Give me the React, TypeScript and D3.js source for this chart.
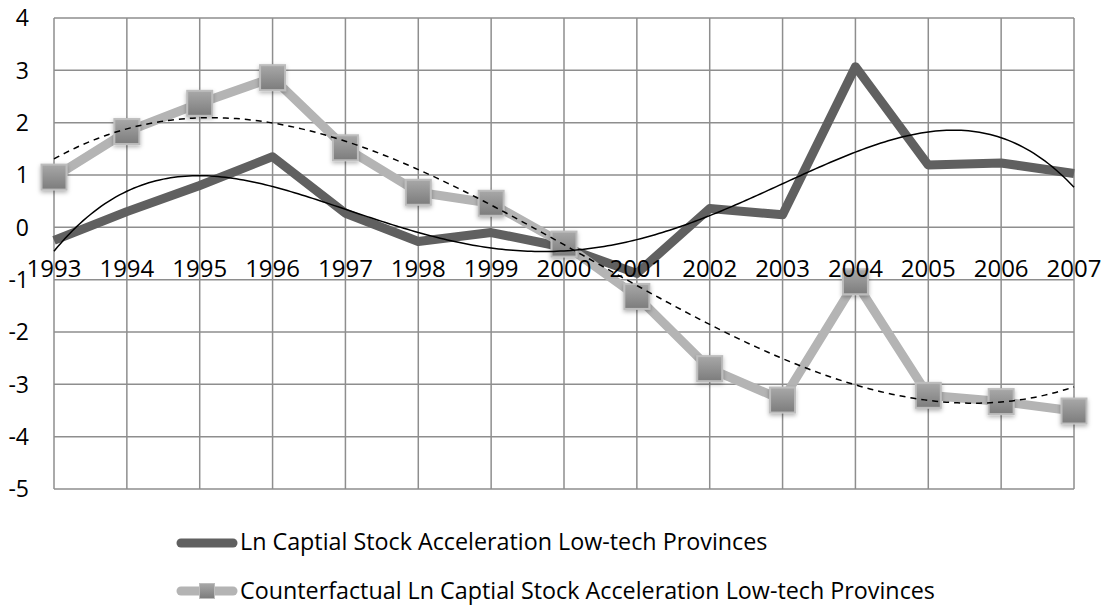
import React from "react";
import * as d3 from "d3";

const years = [1993, 1994, 1995, 1996, 1997, 1998, 1999, 2000, 2001, 2002, 2003, 2004, 2005, 2006, 2007];
const lnCapital = [-0.25, 0.3, 0.8, 1.35, 0.27, -0.27, -0.1, -0.38, -0.88, 0.36, 0.24, 3.07, 1.19, 1.23, 1.03];
const counterfactual = [0.96, 1.83, 2.37, 2.86, 1.52, 0.67, 0.46, -0.32, -1.32, -2.7, -3.3, -1.04, -3.21, -3.33, -3.51];
const yTicks = [4, 3, 2, 1, 0, -1, -2, -3, -4, -5];
const seriesNames = [
  "Ln Captial Stock Acceleration Low-tech Provinces",
  "Counterfactual Ln Captial Stock Acceleration Low-tech Provinces",
];

function polyFit(xs: number[], ys: number[], deg: number): number[] {
  const n = deg + 1;
  const A: number[][] = Array.from({ length: n }, () => new Array(n + 1).fill(0));
  for (let i = 0; i < xs.length; i++) {
    for (let r = 0; r < n; r++) {
      for (let c = 0; c < n; c++) A[r][c] += Math.pow(xs[i], r + c);
      A[r][n] += ys[i] * Math.pow(xs[i], r);
    }
  }
  for (let c = 0; c < n; c++) {
    let p = c;
    for (let r = c + 1; r < n; r++) if (Math.abs(A[r][c]) > Math.abs(A[p][c])) p = r;
    [A[c], A[p]] = [A[p], A[c]];
    for (let r = 0; r < n; r++) {
      if (r === c) continue;
      const f = A[r][c] / A[c][c];
      for (let k = c; k <= n; k++) A[r][k] -= f * A[c][k];
    }
  }
  return A.map((row, i) => row[n] / row[i]);
}
const evalPoly = (co: number[], x: number) => co.reduce((s, c, i) => s + c * Math.pow(x, i), 0);

export default function App() {
  const W = 1106, H = 606;
  const left = 54, right = 1074, top = 18, bottom = 489;
  const x = d3.scaleLinear().domain([years[0], years[years.length - 1]]).range([left, right]);
  const y = d3.scaleLinear().domain([-5, 4]).range([bottom, top]);
  const idx = years.map((_, i) => i + 1);
  const fitDark = polyFit(idx, lnCapital, 4);
  const fitLight = polyFit(idx, counterfactual, 3);
  const samples = d3.range(1, 15.001, 0.05);
  const curve = (co: number[]) =>
    d3.line<number>().x((t) => x(years[0] + t - 1)).y((t) => y(evalPoly(co, t)))(samples) || "";
  const line = d3.line<number>().x((_, i) => x(years[i])).y((v) => y(v));
  const font = "'Open Sans', sans-serif";
  const ms = 25;
  return (
    <svg width={W} height={H} style={{ position: "absolute", left: 0, top: 0, background: "#fff" }} fontFamily={font}>
      <defs>
        <linearGradient id="mk" x1="0" y1="0" x2="0" y2="1">
          <stop offset="0" stopColor="#a8a8a8" />
          <stop offset="1" stopColor="#7c7c7c" />
        </linearGradient>
        <filter id="sh" x="-50%" y="-50%" width="200%" height="200%">
          <feDropShadow dx="0" dy="2" stdDeviation="2" floodColor="#000" floodOpacity="0.3" />
        </filter>
      </defs>
      {yTicks.map((t) => (
        <line key={"h" + t} x1={left} x2={right} y1={y(t)} y2={y(t)} stroke="#8e8e8e" strokeWidth={1.5} />
      ))}
      {years.map((yr) => (
        <line key={"v" + yr} x1={x(yr)} x2={x(yr)} y1={top} y2={bottom} stroke="#8e8e8e" strokeWidth={1.5} />
      ))}
      {yTicks.map((t) => (
        <text key={"yl" + t} x={29} y={y(t)} dy="0.36em" textAnchor="end" fontSize={23} fill="#000">
          {t}
        </text>
      ))}
      <path d={line(lnCapital) || ""} fill="none" stroke="#606060" strokeWidth={9} strokeLinejoin="round" />
      <path d={line(counterfactual) || ""} fill="none" stroke="#b4b4b4" strokeWidth={9} strokeLinejoin="round" />
      {counterfactual.map((v, i) => (
        <rect
          key={"m" + i}
          x={x(years[i]) - ms / 2}
          y={y(v) - ms / 2}
          width={ms}
          height={ms}
          fill="url(#mk)"
          stroke="#bdbdbd"
          strokeWidth={2}
          filter="url(#sh)"
        />
      ))}
      <path d={curve(fitDark)} fill="none" stroke="#000" strokeWidth={1.5} />
      <path d={curve(fitLight)} fill="none" stroke="#000" strokeWidth={1.5} strokeDasharray="6,5" />
      {years.map((yr) => (
        <text key={"xl" + yr} x={x(yr)} y={277} textAnchor="middle" fontSize={24} fill="#000">
          {yr}
        </text>
      ))}
      <line x1={181} x2={233} y1={543} y2={543} stroke="#606060" strokeWidth={9} strokeLinecap="round" />
      <text x={240} y={550} fontSize={23.3} fill="#000">{seriesNames[0]}</text>
      <line x1={181} x2={233} y1={591} y2={591} stroke="#b4b4b4" strokeWidth={9} strokeLinecap="round" />
      <rect x={199.5} y={583.5} width={15} height={15} fill="url(#mk)" stroke="#bdbdbd" strokeWidth={1} />
      <text x={240} y={599} fontSize={23.3} fill="#000">{seriesNames[1]}</text>
    </svg>
  );
}
